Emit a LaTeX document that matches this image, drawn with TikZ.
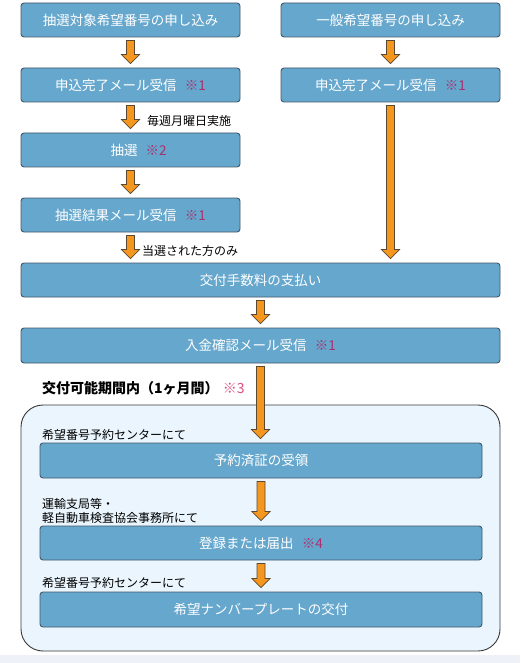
\documentclass[tikz,border=0pt]{standalone}
\usepackage{fontspec}
\newfontfamily\jp{Noto Sans CJK JP}
\usetikzlibrary{calc}
\definecolor{boxfill}{HTML}{66A7CD}
\definecolor{boxline}{HTML}{44596A}
\definecolor{arrfill}{HTML}{F5961E}
\definecolor{arrline}{HTML}{5A4830}
\definecolor{contfill}{HTML}{EAF5FD}
\definecolor{contline}{HTML}{3A3A3A}
\definecolor{markin}{HTML}{A8306E}
\definecolor{markout}{HTML}{E0507E}
\definecolor{strip}{HTML}{EEF2F8}
\newcommand{\boxfont}{\jp\fontsize{13.5}{15}\selectfont}
\newcommand{\lblfont}{\jp\fontsize{12}{14}\selectfont}
\newcommand{\mk}[1]{\hspace{0.6em}\textcolor{markin}{#1}}
\begin{document}
\begin{tikzpicture}[x=1pt,y=-1pt,
  box/.style={draw=boxline, fill=boxfill, rounded corners=3pt, line width=0.9pt,
    text=white, font=\boxfont, inner sep=0pt, minimum height=34pt},
  lbl/.style={anchor=west, font=\lblfont, inner sep=0pt, text=black},
  barrow/.style={draw=arrline, fill=arrfill, line width=0.7pt, line join=miter,
    to path={let \p1=(\tikztostart), \p2=(\tikztotarget) in
      (\x1-4pt,\y1) -- (\x1+4pt,\y1) -- (\x1+4pt,\y2+9pt) -- (\x1+9pt,\y2+9pt)
      -- (\x1,\y2) -- (\x1-9pt,\y2+9pt) -- (\x1-4pt,\y2+9pt) -- cycle}},
]
\useasboundingbox (0,0) rectangle (520,663);
\fill[white] (0,0) rectangle (520,663);
\fill[strip] (0,655) rectangle (520,663);

% container
\node[draw=contline, fill=contfill, rounded corners=22pt, line width=0.9pt,
  minimum width=479pt, minimum height=246pt, inner sep=0pt] (frame) at (260.5,528) {};

% boxes
\node[box, minimum width=219pt] (a) at (130.5,20) {抽選対象希望番号の申し込み};
\node[box, minimum width=219pt] (b) at (390.5,20) {一般希望番号の申し込み};
\node[box, minimum width=219pt] (c) at (130.5,85) {申込完了メール受信\mk{※1}};
\node[box, minimum width=219pt] (d) at (390.5,85) {申込完了メール受信\mk{※1}};
\node[box, minimum width=219pt] (e) at (130.5,150) {\hspace{1.2em}抽選\mk{※2}};
\node[box, minimum width=219pt] (g) at (130.5,215) {抽選結果メール受信\mk{※1}};
\node[box, minimum width=479pt] (h) at (260.5,280) {交付手数料の支払い};
\node[box, minimum width=479pt, minimum height=35pt] (i) at (260.5,345.5) {入金確認メール受信\mk{※1}};
\node[box, minimum width=442pt, minimum height=35pt] (j) at (261,460.5) {予約済証の受領};
\node[box, minimum width=442pt] (k) at (261,543) {登録または届出\mk{※4}};
\node[box, minimum width=442pt, minimum height=35pt] (l) at (261,609.5) {希望ナンバープレートの交付};

% labels
\node[lbl] (l1) at (147,121) {毎週月曜日実施};
\node[lbl] (l2) at (142,251) {当選された方のみ};
\node[lbl, font=\jp\bfseries\fontsize{14}{16}\selectfont] (l3) at (42,388)
  {交付可能期間内（1ヶ月間）\hspace{0.3em}\textcolor{markout}{\mdseries ※3}};
\node[lbl] (l4) at (42,435) {希望番号予約センターにて};
\node[lbl] (l5) at (42,504) {運輸支局等・};
\node[lbl] (l6) at (42,518) {軽自動車検査協会事務所にて};
\node[lbl] (l7) at (42,583) {希望番号予約センターにて};

% arrows
\draw[barrow] ([yshift=-3pt]a.south) to ([yshift=4pt]c.north);
\draw[barrow] ([yshift=-3pt]b.south) to ([yshift=4pt]d.north);
\draw[barrow] ([yshift=-3pt]c.south) to ([yshift=4pt]e.north);
\draw[barrow] ([yshift=-3pt]e.south) to ([yshift=4pt]g.north);
\draw[barrow] ([yshift=-3pt]g.south) to ([yshift=4pt]h.north -| g.south);
\draw[barrow] ([yshift=-3pt]d.south) to ([yshift=4pt]h.north -| d.south);
\draw[barrow] ([yshift=-3pt]h.south) to ([yshift=4pt]i.north);
\draw[barrow] ([yshift=-3pt]i.south) to ([yshift=4pt]j.north);
\draw[barrow] ([yshift=-3pt]j.south) to ([yshift=5pt]k.north);
\draw[barrow] ([yshift=-3pt]k.south) to ([yshift=4pt]l.north);
\end{tikzpicture}
\end{document}
